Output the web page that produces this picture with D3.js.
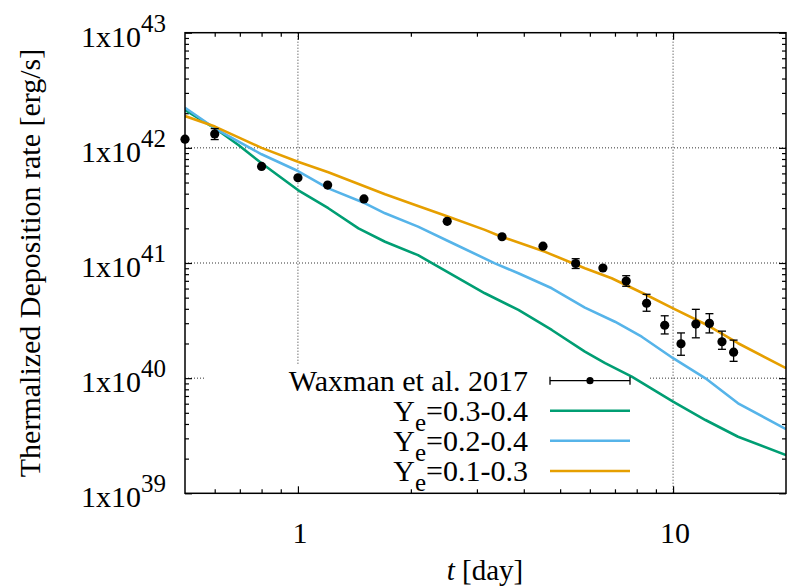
<!DOCTYPE html>
<html>
<head>
<meta charset="utf-8">
<script src="https://cdn.jsdelivr.net/npm/d3@7/dist/d3.min.js"></script>
<style>
  html, body { margin: 0; padding: 0; background: #fff; }
  svg { display: block; }
  text { font-family: "Liberation Serif", "Times New Roman", serif; fill: #000; }
</style>
</head>
<body>
<svg id="chart" width="787" height="586"></svg>
<script>
// ---------------- data ----------------
const obsT  = [0.5, 0.6, 0.8, 1.0, 1.2, 1.5, 2.5, 3.5, 4.5, 5.5, 6.5, 7.5, 8.5, 9.5, 10.5, 11.5, 12.5, 13.5, 14.5];
const obsV  = [1.19e42, 1.32e42, 6.9e41, 5.5e41, 4.75e41, 3.6e41, 2.3e41, 1.69e41, 1.4e41, 9.9e40, 9.05e40, 6.98e40, 4.47e40, 2.88e40, 1.99e40, 2.95e40, 2.99e40, 2.07e40, 1.68e40];
const obsLo = [1.17e42, 1.18e42, 6.8e41, 5.4e41, 4.65e41, 3.53e41, 2.25e41, 1.64e41, 1.33e41, 8.96e40, 8.4e40, 6.28e40, 3.81e40, 2.42e40, 1.58e40, 2.24e40, 2.47e40, 1.78e40, 1.40e40];
const obsHi = [1.21e42, 1.47e42, 7.0e41, 5.6e41, 4.85e41, 3.67e41, 2.35e41, 1.74e41, 1.47e41, 1.09e41, 9.75e40, 7.76e40, 5.35e40, 3.48e40, 2.47e40, 3.96e40, 3.63e40, 2.56e40, 2.14e40];

const greenT = [0.5, 0.61, 0.694, 0.8, 1.0, 1.205, 1.45, 1.707, 2.09, 2.32, 3.15, 3.87, 4.75, 5.82, 6.59, 7.76, 10.0, 12.2, 14.9, 20];
const greenV = [2.13e42, 1.43e42, 1.06e42, 7.34e41, 4.30e41, 2.99e41, 2.0e41, 1.53e41, 1.17e41, 9.61e40, 5.46e40, 3.91e40, 2.62e40, 1.70e40, 1.35e40, 1.03e40, 6.24e39, 4.33e39, 3.10e39, 2.15e39];

const blueT = [0.5, 0.61, 0.8, 1.0, 1.205, 1.51, 1.707, 2.09, 2.57, 3.35, 3.87, 4.75, 5.82, 7.0, 8.25, 10.0, 12.2, 14.9, 20];
const blueV = [2.23e42, 1.43e42, 8.79e41, 6.29e41, 4.45e41, 3.30e41, 2.70e41, 2.07e41, 1.50e41, 9.93e40, 8.14e40, 6.03e40, 4.10e40, 3.09e40, 2.29e40, 1.49e40, 9.97e39, 6.05e39, 3.61e39];

const orangeT = [0.5, 0.601, 0.8, 1.0, 1.205, 1.707, 2.09, 2.52, 3.15, 3.49, 4.56, 5.82, 6.86, 8.42, 10.0, 12.2, 14.9, 20];
const orangeV = [1.89e42, 1.53e42, 1.0e42, 7.58e41, 6.13e41, 3.95e41, 3.13e41, 2.52e41, 1.94e41, 1.69e41, 1.25e41, 9.0e40, 7.37e40, 5.35e40, 4.04e40, 2.94e40, 2.01e40, 1.22e40];

const seriesNames  = ["Y_e=0.3-0.4", "Y_e=0.2-0.4", "Y_e=0.1-0.3"];
const seriesColors = ["#009e73", "#56b4e9", "#e69f00"];
const obsName = "Waxman et al. 2017";

const xTickVals = [1, 10];
const xTickLabels = ["1", "10"];
const yTickVals = [1e39, 1e40, 1e41, 1e42, 1e43];
const yTickExps = ["39", "40", "41", "42", "43"];

const xTitle = "[day]";
const yTitle = "Thermalized Deposition rate [erg/s]";

// ---------------- layout ----------------
const L = 185, R = 786, T = 32.7, B = 493.3;
const svg = d3.select("#chart");
const x = d3.scaleLog().domain([0.5, 20]).range([L, R]);
const y = d3.scaleLog().domain([1e39, 1e43]).range([B, T]);

svg.append("defs").append("clipPath").attr("id", "clip")
  .append("rect").attr("x", L).attr("y", T).attr("width", R - L).attr("height", B - T);

// grid (dotted)
const grid = svg.append("g").attr("stroke", "#333").attr("stroke-width", 1).attr("stroke-dasharray", "1,2");
xTickVals.forEach(v => grid.append("line").attr("x1", x(v)).attr("x2", x(v)).attr("y1", T).attr("y2", B));
yTickVals.slice(1, -1).forEach(v => grid.append("line").attr("x1", L).attr("x2", R).attr("y1", y(v)).attr("y2", y(v)));

// opaque legend box (covers grid only)
svg.append("rect").attr("x", 204).attr("y", 365).attr("width", 648 - 204).attr("height", B - 365).attr("fill", "#fff");

// ticks via axes
const xMinor = [0.6, 0.7, 0.8, 0.9, 2, 3, 4, 5, 6, 7, 8, 9];
const yMinor = [];
for (let e = 39; e < 43; e++) for (let m = 2; m <= 9; m++) yMinor.push(m * Math.pow(10, e));

function tickAxis(axisFn, scale, vals, size, transform) {
  const g = svg.append("g").attr("transform", transform)
    .call(axisFn(scale).tickValues(vals).tickSize(size).tickFormat(""));
  g.select(".domain").remove();
  g.selectAll("line").attr("stroke", "#000").attr("stroke-width", 1.2);
}
const major = 7, minor = 4;
tickAxis(d3.axisTop, x, xTickVals, major, `translate(0,${B})`);
tickAxis(d3.axisTop, x, xMinor, minor, `translate(0,${B})`);
tickAxis(d3.axisBottom, x, xTickVals, major, `translate(0,${T})`);
tickAxis(d3.axisBottom, x, xMinor, minor, `translate(0,${T})`);
tickAxis(d3.axisRight, y, yTickVals, major, `translate(${L},0)`);
tickAxis(d3.axisRight, y, yMinor, minor, `translate(${L},0)`);
tickAxis(d3.axisLeft, y, yTickVals, major, `translate(${R},0)`);
tickAxis(d3.axisLeft, y, yMinor, minor, `translate(${R},0)`);

// curves
const line = d3.line().x(d => x(d[0])).y(d => y(d[1]));
const curves = [
  d3.zip(greenT, greenV),
  d3.zip(blueT, blueV),
  d3.zip(orangeT, orangeV)
];
const cg = svg.append("g").attr("clip-path", "url(#clip)");
curves.forEach((c, i) => {
  cg.append("path").datum(c).attr("d", line)
    .attr("fill", "none").attr("stroke", seriesColors[i]).attr("stroke-width", 2.6)
    .attr("stroke-linejoin", "round");
});

// observations
const obs = obsT.map((t, i) => ({t, v: obsV[i], lo: obsLo[i], hi: obsHi[i]}));
const og = svg.append("g").attr("stroke", "#000").attr("stroke-width", 1.3);
obs.forEach(d => {
  const px = x(d.t), y1 = y(d.lo), y2 = y(d.hi);
  og.append("line").attr("x1", px).attr("x2", px).attr("y1", y1).attr("y2", y2);
  if (y1 - y2 > 8) {
    og.append("line").attr("x1", px - 4).attr("x2", px + 4).attr("y1", y1).attr("y2", y1);
    og.append("line").attr("x1", px - 4).attr("x2", px + 4).attr("y1", y2).attr("y2", y2);
  }
});
svg.append("g").selectAll("circle").data(obs).join("circle")
  .attr("cx", d => x(d.t)).attr("cy", d => y(d.v)).attr("r", 4.6).attr("fill", "#000");

// border
svg.append("rect").attr("x", L).attr("y", T).attr("width", R - L).attr("height", B - T)
  .attr("fill", "none").attr("stroke", "#000").attr("stroke-width", 1.5);

// tick labels
const fs = 30;
yTickVals.forEach((v, i) => {
  const t = svg.append("text").attr("x", 166).attr("y", y(v) + 14)
    .attr("text-anchor", "end").attr("font-size", fs);
  t.append("tspan").text("1x10");
  t.append("tspan").attr("dy", -15).attr("font-size", 25).text(yTickExps[i]);
});
xTickVals.forEach((v, i) => {
  svg.append("text").attr("x", x(v) + 2).attr("y", 543).attr("text-anchor", "middle")
    .attr("font-size", fs).text(xTickLabels[i]);
});

// axis titles
const xt = svg.append("text").attr("x", 485).attr("y", 580).attr("text-anchor", "middle").attr("font-size", 29);
xt.append("tspan").attr("font-style", "italic").text("t");
xt.append("tspan").text(" " + xTitle);
svg.append("text").attr("transform", `translate(40,${(T + B) / 2}) rotate(-90)`)
  .attr("text-anchor", "middle").attr("font-size", 30).text(yTitle);

// legend
const legX = 528, s1 = 550, s2 = 630;
const rows = [380.7, 410.7, 440.7, 471];
svg.append("text").attr("x", legX).attr("y", rows[0] + 10).attr("text-anchor", "end")
  .attr("font-size", fs).text(obsName);
const lg = svg.append("g").attr("stroke", "#000").attr("stroke-width", 1.3);
lg.append("line").attr("x1", s1).attr("x2", s2).attr("y1", rows[0]).attr("y2", rows[0]);
lg.append("line").attr("x1", s1).attr("x2", s1).attr("y1", rows[0] - 4).attr("y2", rows[0] + 4);
lg.append("line").attr("x1", s2).attr("x2", s2).attr("y1", rows[0] - 4).attr("y2", rows[0] + 4);
svg.append("circle").attr("cx", (s1 + s2) / 2).attr("cy", rows[0]).attr("r", 3.6).attr("fill", "#000");

seriesNames.forEach((name, i) => {
  const ry = rows[i + 1];
  const parts = name.split("_");
  const rest = parts[1].slice(1);
  const t = svg.append("text").attr("x", legX).attr("y", ry + 10).attr("text-anchor", "end").attr("font-size", fs);
  t.append("tspan").text(parts[0]);
  t.append("tspan").attr("dy", 10).attr("font-size", 25).text(parts[1][0]);
  t.append("tspan").attr("dy", -10).text(rest);
  svg.append("line").attr("x1", s1).attr("x2", s2).attr("y1", ry).attr("y2", ry)
    .attr("stroke", seriesColors[i]).attr("stroke-width", 2.6);
});
</script>
</body>
</html>
